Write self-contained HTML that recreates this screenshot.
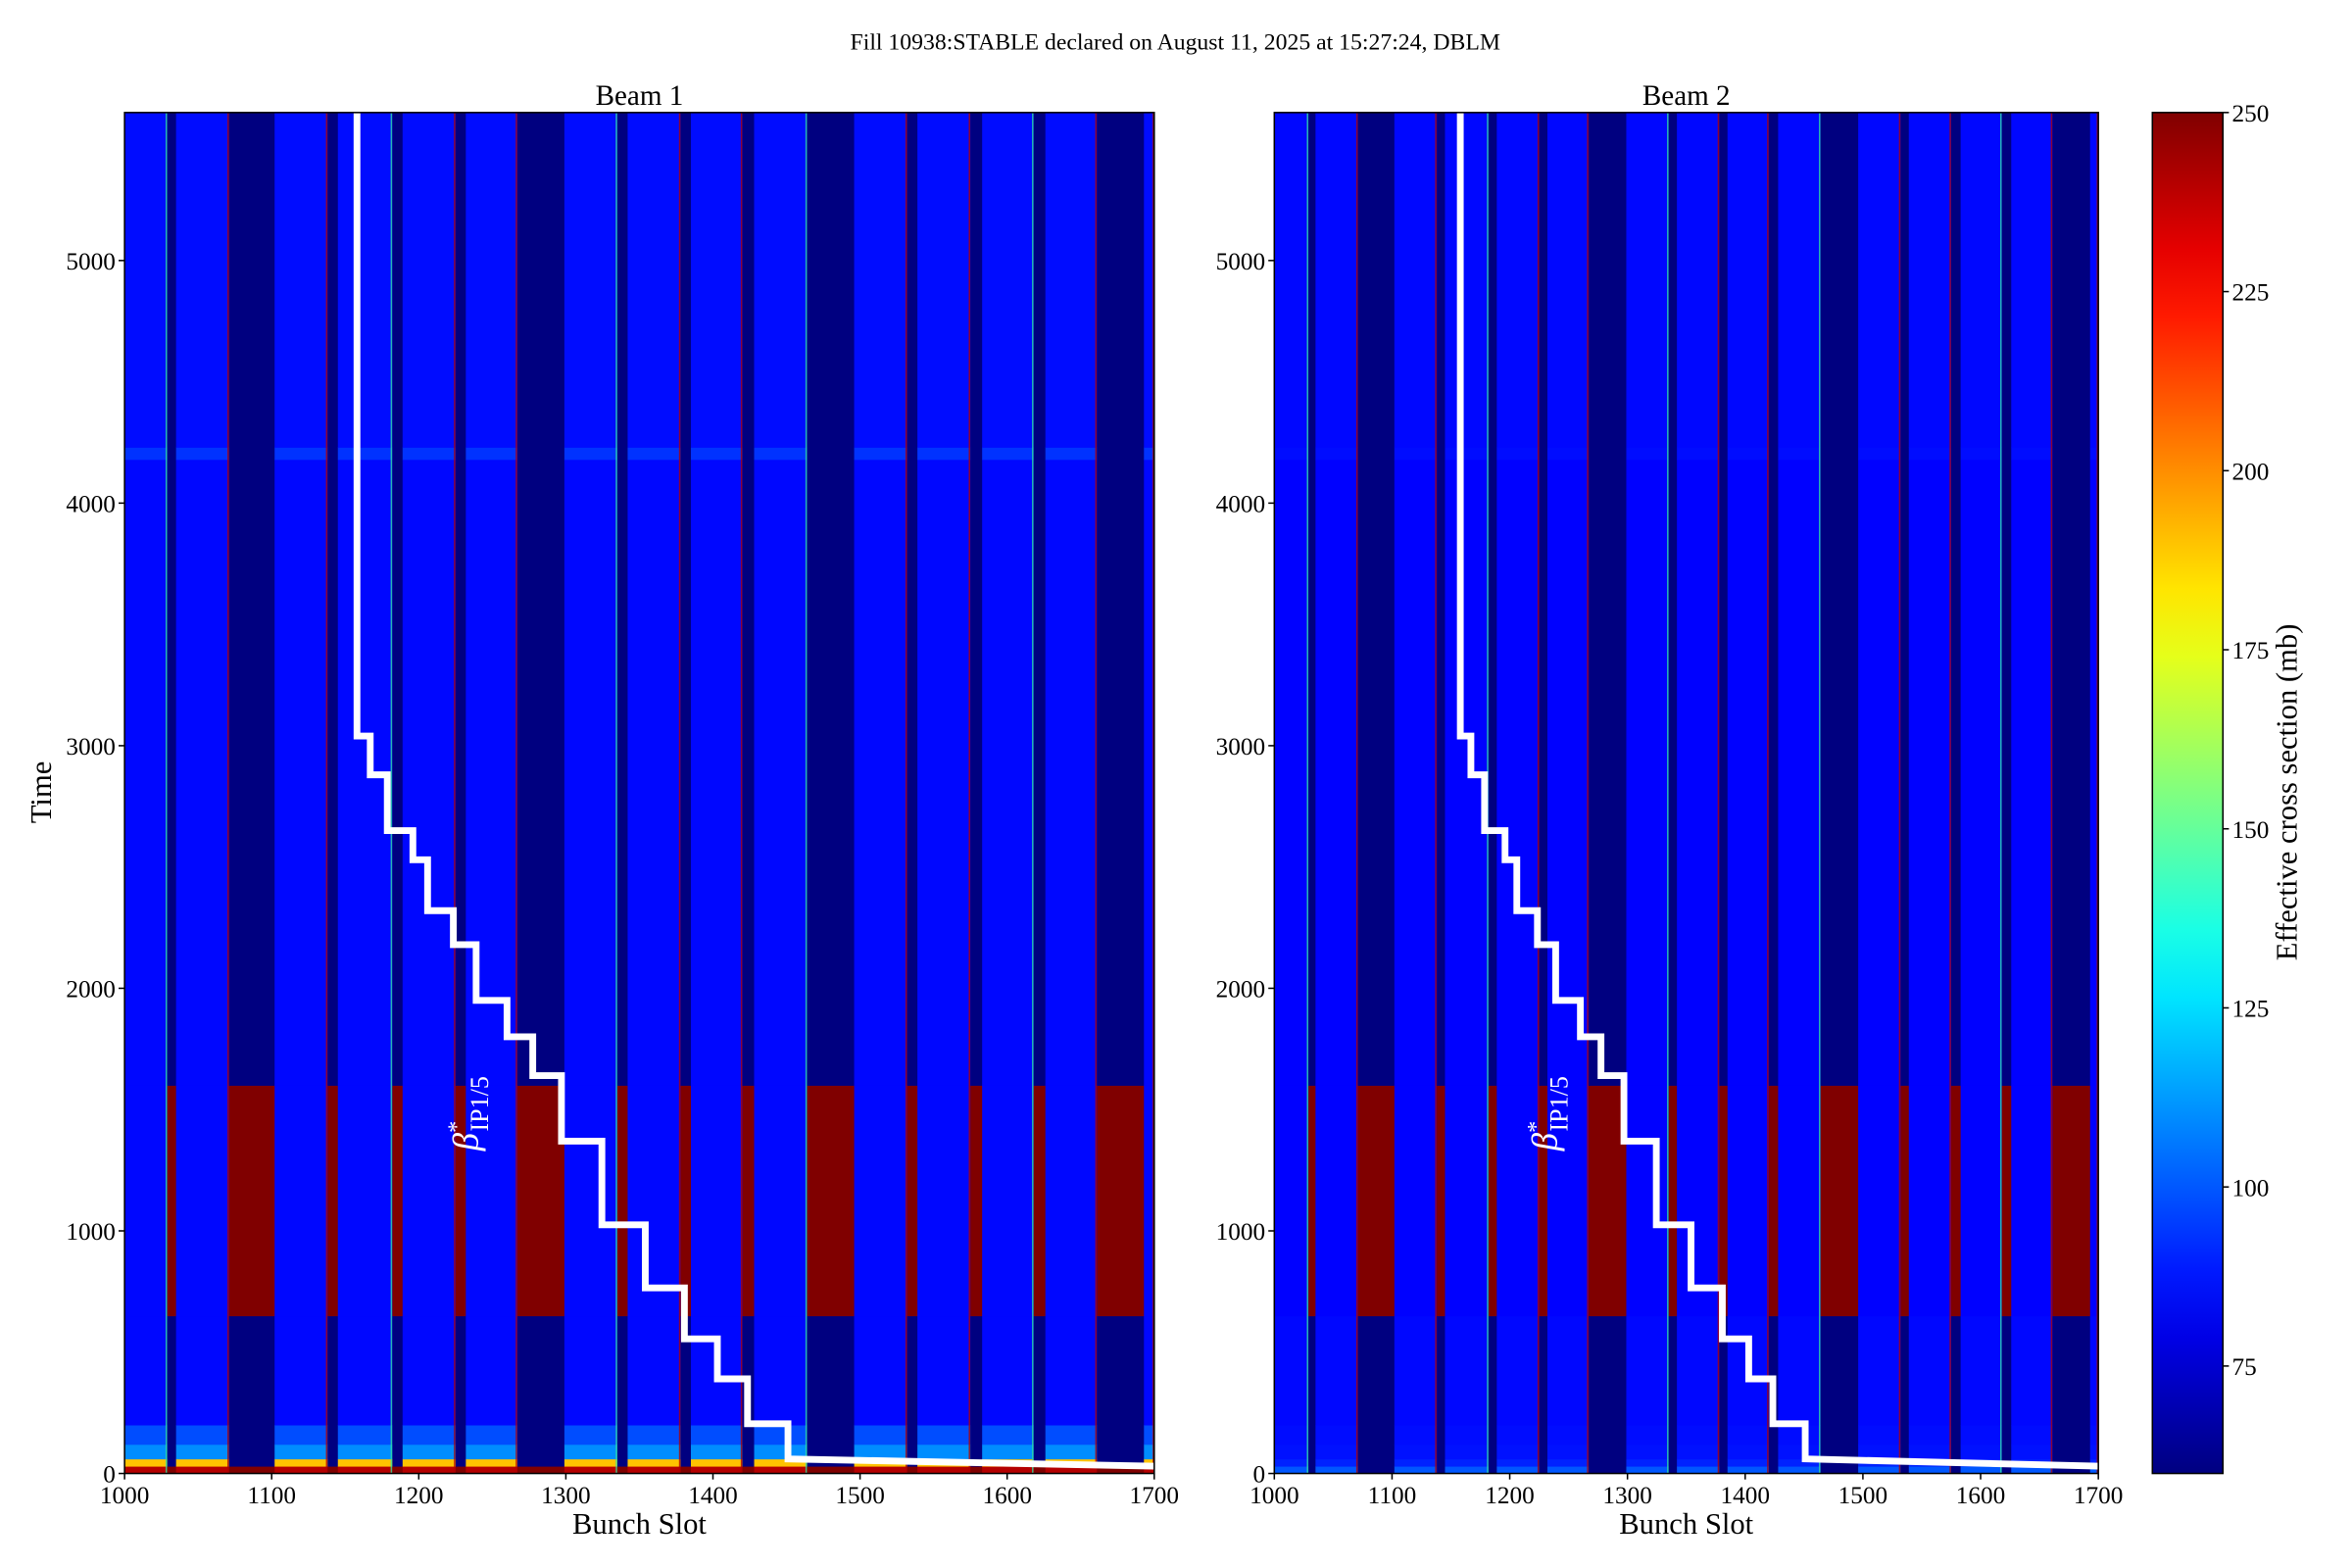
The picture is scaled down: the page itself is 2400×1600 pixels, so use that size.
<!DOCTYPE html>
<html><head><meta charset="utf-8">
<style>
html,body{margin:0;padding:0;background:#fff;}
svg{display:block;font-family:"Liberation Serif",serif;}
</style></head>
<body>
<svg id="chart" width="2400" height="1600" viewBox="0 0 1567 1045" preserveAspectRatio="none" xmlns="http://www.w3.org/2000/svg">
<defs>
<linearGradient id="cbgrad" x1="0" y1="1" x2="0" y2="0"></linearGradient>
</defs>
<text x="783" y="33" font-size="15.5" text-anchor="middle">Fill 10938:STABLE declared on August 11, 2025 at 15:27:24, DBLM</text>
<g id="p1"></g>
<g id="p2"></g>
<g id="cb"></g>
</svg>
<script>
// ---- data ----
const trainStarts = [1000,1035,1102,1145,1189,1232,1299,1342,1385,1428,1496,1539,1583,1626,1693];
const trainEnds   = [1029,1071,1138,1182,1225,1267,1335,1378,1420,1464,1532,1575,1618,1661,1700];
const bandTimes   = [0,30,60,120,200,650,1600,4180,4230,5610];
const trainValsB1 = [240,190,110,98,85,85,85,93,86];
const trainValsB2 = [100,90,87,86,85,84,84,86,85];
const gapValsB1   = [250,60,60,60,60,250,60,60,60];
const gapValsB2   = [60,60,60,60,60,250,60,60,60];
const stepSlots = [1158,1167,1178.6,1196,1206,1223.5,1239,1260,1277.5,1297,1324.5,1354,1380.6,1403,1423.5,1451];
const stepTimes = [3040,2880,2650,2530,2320,2180,1950,1800,1640,1370,1025,765,555,390,205,60];
const tailSlot = 1700, tailTime = 30;
const xTicks = [1000,1100,1200,1300,1400,1500,1600,1700];
const yTicks = [0,1000,2000,3000,4000,5000];
const cbTicks = [75,100,125,150,175,200,225,250];
const vmin = 60, vmax = 250, tmax = 5610;

const NS = "http://www.w3.org/2000/svg";
function el(tag, attrs, parent){ const e=document.createElementNS(NS,tag); for(const k in attrs) e.setAttribute(k,attrs[k]); parent.appendChild(e); return e; }
function clamp(v){return Math.max(0,Math.min(1,v));}
function jet(v){ const x=clamp((v-vmin)/(vmax-vmin)); const r=clamp(1.5-Math.abs(4*x-3)), g=clamp(1.5-Math.abs(4*x-2)), b=clamp(1.5-Math.abs(4*x-1)); return `rgb(${Math.round(r*255)},${Math.round(g*255)},${Math.round(b*255)})`; }

const yTop=75, yBot=982;
function yScale(t){ return yBot - (t/tmax)*(yBot-yTop); }

function panel(g, x0, x1, title, trainVals, gapVals){
  const xs = s => x0 + (s-1000)/700*(x1-x0);
  for(let b=0;b<bandTimes.length-1;b++){
    const r = el('rect',{x:x0,y:yScale(bandTimes[b+1]),width:x1-x0,height:yScale(bandTimes[b])-yScale(bandTimes[b+1])+0.3,fill:jet(gapVals[b])},g);
    
    
  }
  for(let i=0;i<trainStarts.length;i++){
    for(let b=0;b<bandTimes.length-1;b++){
      const r = el('rect',{x:xs(trainStarts[i]),y:yScale(bandTimes[b+1]),width:xs(trainEnds[i])-xs(trainStarts[i]),height:yScale(bandTimes[b])-yScale(bandTimes[b+1])+0.3,fill:jet(trainVals[b])},g);
      
      
    }
    const ln = el('line',{x1:xs(trainEnds[i])-0.6,x2:xs(trainEnds[i])-0.6,y1:yTop,y2:yBot,stroke:(i%3==0?'#30e0a0':'#b00000'),'stroke-width':1,opacity:0.8},g);
    
    
  }
  let d = `M${xs(stepSlots[0])},${yScale(tmax)}`;
  for(let i=0;i<stepSlots.length;i++){
    d += ` L${xs(stepSlots[i])},${yScale(stepTimes[i])}`;
    if(i<stepSlots.length-1) d += ` L${xs(stepSlots[i+1])},${yScale(stepTimes[i])}`;
  }
  d += ` L${xs(tailSlot)},${yScale(tailTime)}`;
  const p = el('path',{d:d,fill:'none',stroke:'#fff','stroke-width':4.5},g);
  
  
  const lx = xs(1240), ly = yScale(1330);
  const bt = el('text',{x:0,y:0,fill:'#fff','font-size':24,'font-style':'italic',transform:`translate(${lx},${ly}) rotate(-90)`},g);
  
  
  bt.innerHTML = 'β<tspan dy="-9" font-size="16" font-style="normal">*</tspan><tspan dy="16" font-size="17" font-style="normal" dx="-7">IP1/5</tspan>';
  const fr = el('rect',{x:x0,y:yTop,width:x1-x0,height:yBot-yTop,fill:'none',stroke:'#000','stroke-width':1},g);
  
  
  xTicks.forEach(v=>{
    const t = el('line',{x1:xs(v),x2:xs(v),y1:yBot,y2:yBot+4,stroke:'#000'},g);
    
    
    const tl = el('text',{x:xs(v),y:yBot+20,'font-size':16.5,'text-anchor':'middle'},g);
    
    
    tl.textContent = v;
  });
  yTicks.forEach(v=>{
    const t = el('line',{x1:x0-4,x2:x0,y1:yScale(v),y2:yScale(v),stroke:'#000'},g);
    
    
    const tl = el('text',{x:x0-6,y:yScale(v)+6,'font-size':16.5,'text-anchor':'end'},g);
    
    
    tl.textContent = v;
  });
  const xl = el('text',{x:(x0+x1)/2,y:yBot+40,'font-size':20,'text-anchor':'middle'},g);
  
  
  xl.textContent = 'Bunch Slot';
  const tt = el('text',{x:(x0+x1)/2,y:70,'font-size':19,'text-anchor':'middle'},g);
  
  
  tt.textContent = title;
}
panel(document.getElementById('p1'),83,769,'Beam 1',trainValsB1,gapValsB1);
panel(document.getElementById('p2'),849,1398,'Beam 2',trainValsB2,gapValsB2);

const yl = el('text',{x:0,y:0,'font-size':20,'text-anchor':'middle',transform:'translate(34,528) rotate(-90)'},document.getElementById('p1'));


yl.textContent = 'Time';

const grad = document.getElementById('cbgrad');
for(let i=0;i<=20;i++){ const v=vmin+(vmax-vmin)*i/20; el('stop',{offset:(i*5)+'%','stop-color':jet(v)},grad); }
const cb = document.getElementById('cb');
const cx0=1434, cx1=1481;
const cbY = v => yBot - (v-vmin)/(vmax-vmin)*(yBot-yTop);
const cr = el('rect',{x:cx0,y:yTop,width:cx1-cx0,height:yBot-yTop,fill:'url(#cbgrad)',stroke:'#000','stroke-width':1},cb);


cbTicks.forEach(v=>{
  const t = el('line',{x1:cx1,x2:cx1+4,y1:cbY(v),y2:cbY(v),stroke:'#000'},cb);
  
  
  const tl = el('text',{x:cx1+6,y:cbY(v)+6,'font-size':16.5},cb);
  
  
  tl.textContent = v;
});
const cl = el('text',{x:0,y:0,'font-size':20,'text-anchor':'middle',transform:'translate(1530,528) rotate(-90)'},cb);


cl.textContent = 'Effective cross section (mb)';
</script>
</body></html>
